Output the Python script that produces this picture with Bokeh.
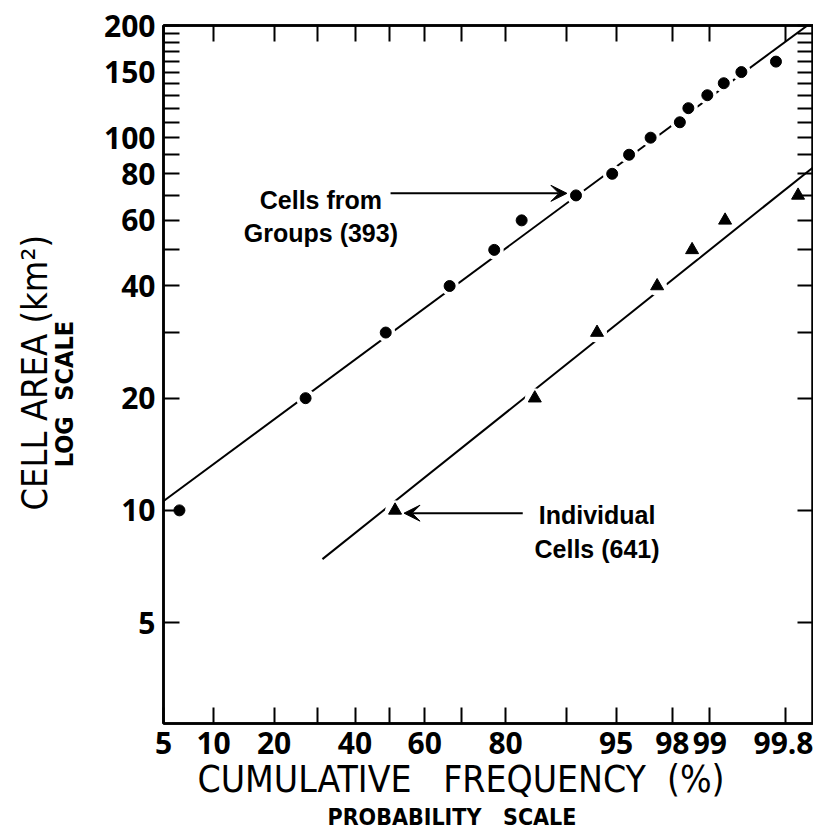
from statistics import NormalDist
from bokeh.plotting import figure
from bokeh.models import (FixedTicker, LinearAxis, LogAxis, Label, Arrow,
                          VeeHead, Range1d, Title)
from bokeh.embed import file_html
from bokeh.resources import INLINE

# ---------------- data ----------------
groups_pct = [6.3, 27.0, 48.8, 66.8, 77.6, 83.1, 91.2, 94.7, 95.9, 97.1,
              98.25, 98.5, 98.95, 99.24, 99.47, 99.75]
groups_area = [10, 20, 30, 40, 50, 60, 70, 80, 90, 100,
               110, 120, 130, 140, 150, 160]

indiv_pct = [51.5, 85.4, 93.4, 97.4, 98.6, 99.26, 99.85]
indiv_area = [10, 20, 30, 40, 50, 60, 70]

groups_fit_pct = [5.0, 99.88]
groups_fit_area = [10.6, 200.0]
indiv_fit_pct = [31.2, 99.9]
indiv_fit_area = [7.4, 84.0]

x_label_pct = [5, 10, 20, 40, 60, 80, 95, 98, 99, 99.8]
x_label_text = ["5", "10", "20", "40", "60", "80", "95", "98", "99", "99.8"]
x_minor_pct = [30, 50, 70, 90]
y_label_vals = [5, 10, 20, 40, 60, 80, 100, 150, 200]
y_label_text = ["5", "10", "20", "40", "60", "80", "100", "150", "200"]
y_minor_vals = [30, 50, 70, 90, 110, 120, 130, 140, 160, 170, 180, 190]

# annotation anchors (percent, km^2)
groups_text_pct = 30.8
groups_text_area = [68.2, 55.6]
groups_text = ["Cells from", "Groups (393)"]
groups_arrow_pct = [50.2, 90.1]
groups_arrow_area = 70.9

indiv_text_pct = 93.4
indiv_text_area = [9.7, 7.9]
indiv_text = ["Individual", "Cells (641)"]
indiv_arrow_pct = [83.3, 54.1]
indiv_arrow_area = 9.83

ND = NormalDist()


def probit(p):
    return ND.inv_cdf(p / 100.0)


gx = [probit(v) for v in groups_pct]
ix = [probit(v) for v in indiv_pct]
gfx = [probit(v) for v in groups_fit_pct]
ifx = [probit(v) for v in indiv_fit_pct]
x_major = [probit(v) for v in x_label_pct]
x_minor = [probit(v) for v in x_minor_pct]

TICK_FONT = "Open Sans"
NARROW = "'Liberation Sans Narrow', 'DejaVu Sans Condensed', sans-serif"
NB = "\u00a0"

p = figure(width=813, height=838,
           x_range=Range1d(probit(5) - 0.001, 3.08),
           y_range=Range1d(2.68, 200),
           y_axis_type="log",
           output_backend="svg", toolbar_location=None,
           min_border_left=163, min_border_right=0,
           min_border_top=25, min_border_bottom=115,
           background_fill_color="white", border_fill_color="white")
p.grid.visible = False
p.outline_line_color = "black"
p.outline_line_width = 2.5

xax = p.xaxis[0]
xax.ticker = FixedTicker(ticks=x_major, minor_ticks=x_minor)
xax.major_label_overrides = {z: t for z, t in zip(x_major, x_label_text)}
yax = p.yaxis[0]
yax.ticker = FixedTicker(ticks=y_label_vals, minor_ticks=y_minor_vals)
yax.major_label_overrides = {v: t for v, t in zip(y_label_vals, y_label_text)}

top = LinearAxis(ticker=FixedTicker(ticks=[], minor_ticks=x_major + x_minor))
right = LogAxis(ticker=FixedTicker(ticks=[], minor_ticks=y_label_vals + y_minor_vals))
p.add_layout(top, "above")
p.add_layout(right, "right")

for ax in (xax, yax, top, right):
    ax.axis_line_color = "black"
    ax.axis_line_width = 2.5
    ax.major_tick_line_color = "black"
    ax.major_tick_line_width = 2
    ax.major_tick_in = 16
    ax.major_tick_out = 0
    ax.minor_tick_line_color = "black"
    ax.minor_tick_line_width = 2
    ax.minor_tick_in = 16
    ax.minor_tick_out = 0
    ax.major_label_text_color = "black"
    ax.major_label_text_font = TICK_FONT
    ax.major_label_text_font_style = "bold"
    ax.major_label_text_font_size = "30px"
    ax.major_label_standoff = 8

# y-axis inner title
yax.axis_label = "LOG" + NB * 2 + "SCALE" + NB * 5
yax.axis_label_standoff = 22
yax.axis_label_text_font = NARROW
yax.axis_label_text_font_style = "bold"
yax.axis_label_text_font_size = "25px"
yax.axis_label_text_color = "black"

# outer titles
p.add_layout(Title(text="CELL" + NB + "AREA" + NB + "(km\u00b2)",
                   align="left", offset=213, standoff=-15,
                   text_font=NARROW, text_font_style="normal",
                   text_font_size="36px", text_color="black"), "left")
p.add_layout(Title(text="CUMULATIVE" + NB * 3 + "FREQUENCY" + NB * 2 + "(%)",
                   align="left", offset=34, standoff=-2,
                   text_font=NARROW, text_font_style="normal",
                   text_font_size="37px", text_color="black"), "below")
p.add_layout(Title(text="PROBABILITY" + NB * 3 + "SCALE",
                   align="left", offset=164, standoff=5,
                   text_font=NARROW, text_font_style="bold",
                   text_font_size="23px", text_color="black"), "below")

# fitted lines
p.line(gfx, groups_fit_area, line_color="black", line_width=2)
p.line(ifx, indiv_fit_area, line_color="black", line_width=2)

# white halos that break the lines around the points
p.scatter(gx, groups_area, marker="circle", size=19, fill_color="white",
          line_color=None)
p.scatter(ix, indiv_area, marker="circle", size=20, fill_color="white",
          line_color=None)

# points
p.scatter(gx, groups_area, marker="circle", size=11, fill_color="black",
          line_color="black")
p.scatter(ix, indiv_area, marker="triangle", size=13, fill_color="black",
          line_color="black")

# annotations
for t, a in zip(groups_text, groups_text_area):
    p.add_layout(Label(x=probit(groups_text_pct), y=a, text=t,
                       text_align="center", text_baseline="alphabetic",
                       text_font="Liberation Sans", text_font_style="bold",
                       text_font_size="25px", text_color="black"))
for t, a in zip(indiv_text, indiv_text_area):
    p.add_layout(Label(x=probit(indiv_text_pct), y=a, text=t,
                       text_align="center", text_baseline="alphabetic",
                       text_font="Liberation Sans", text_font_style="bold",
                       text_font_size="25px", text_color="black"))

p.add_layout(Arrow(x_start=probit(groups_arrow_pct[0]), y_start=groups_arrow_area,
                   x_end=probit(groups_arrow_pct[1]), y_end=groups_arrow_area,
                   line_color="black", line_width=2,
                   end=VeeHead(size=16, fill_color="black", line_color="black")))
p.add_layout(Arrow(x_start=probit(indiv_arrow_pct[0]), y_start=indiv_arrow_area,
                   x_end=probit(indiv_arrow_pct[1]), y_end=indiv_arrow_area,
                   line_color="black", line_width=2,
                   end=VeeHead(size=16, fill_color="black", line_color="black")))

open("out.html", "w").write(file_html(p, INLINE))
